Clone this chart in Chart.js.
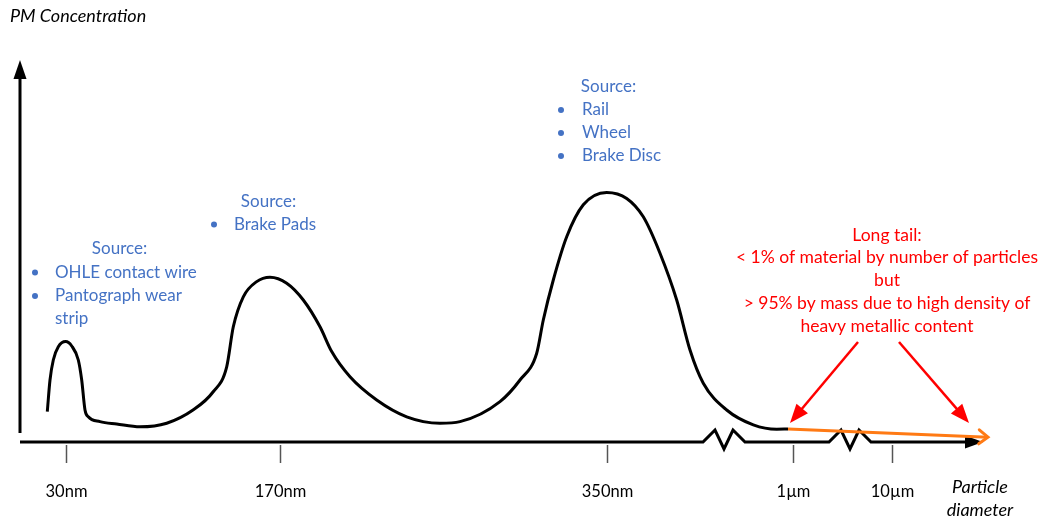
<!DOCTYPE html>
<html>
<head>
<meta charset="utf-8">
<script src="https://cdn.jsdelivr.net/npm/chart.js@4/dist/chart.umd.min.js"></script>
<style>
  html, body { margin: 0; padding: 0; background: #ffffff; }
  canvas { display: block; }
</style>
</head>
<body>
<canvas id="pm" width="1042" height="519"></canvas>
<script>
// Particle size distribution (schematic): position along the diameter axis
// (0-100, non-linear with breaks) and relative PM concentration (0-100).
const curveX = [2.73, 3.0, 3.33, 3.83, 4.57, 5.17, 5.83, 6.17, 6.5, 6.83,
                8.0, 9.67, 12.0, 14.67, 17.3, 19.3, 20.67, 21.33, 22.33, 23.67,
                25.0, 26.67, 28.33, 30.0, 31.17, 33.0, 35.67, 38.67, 42.0, 44.0,
                48.0, 50.0, 51.67, 52.33, 53.33, 54.67, 56.33, 58.67, 60.67, 62.33,
                64.0, 65.67, 67.0, 68.33, 70.67, 73.33, 75.67, 76.8];
const curveY = [7.6, 15.5, 20.5, 23.8, 25.1, 24.0, 20.5, 15.5, 8.0, 6.3,
                5.1, 4.5, 3.8, 4.7, 8.0, 12.5, 18.8, 28.8, 36.3, 40.1,
                41.2, 39.7, 35.5, 28.8, 22.6, 16.3, 10.5, 6.3, 4.7, 5.1,
                10.1, 15.5, 22.2, 30.5, 40.5, 51.3, 59.3, 62.4, 60.9, 56.3,
                47.2, 35.5, 23.0, 14.7, 8.0, 4.3, 3.2, 3.25];

// Coarse-particle long tail
const tailX = [76.8, 96.8];
const tailY = [3.25, 1.2];

// Diameter axis ticks
const tickValues = [4.6, 26.0, 58.7, 77.3, 87.2];
const tickLabels = ['30nm', '170nm', '350nm', '1µm', '10µm'];

// Scale breaks on the diameter axis
const breakCentres = [70.4, 83.0];

// Axis extents
const xAxisEnd = 96.3;
const yAxisEnd = 95.5;

// Source annotations
const sourceTitle = 'Source:';
const sourcesFine = ['OHLE contact wire', 'Pantograph wear'];
const sourcesFineWrap = 'strip';
const sourcesMid = ['Brake Pads'];
const sourcesCoarse = ['Rail', 'Wheel', 'Brake Disc'];
const tailNote = ['Long tail:', '< 1% of material by number of particles', 'but',
                  '> 95% by mass due to high density of', 'heavy metallic content'];

const FONT = 'Lato, "Open Sans", sans-serif';
const BLUE = '#4472C4';
const RED = '#FF0000';
const ORANGE = '#FF7A14';

function arrowHead(ctx, x0, y0, x1, y1, len, half, fill) {
  const a = Math.atan2(y1 - y0, x1 - x0);
  ctx.beginPath();
  ctx.moveTo(x1, y1);
  ctx.lineTo(x1 - len * Math.cos(a) + half * Math.sin(a), y1 - len * Math.sin(a) - half * Math.cos(a));
  ctx.lineTo(x1 - len * Math.cos(a) - half * Math.sin(a), y1 - len * Math.sin(a) + half * Math.cos(a));
  ctx.closePath();
  ctx.fillStyle = fill;
  ctx.fill();
}

const diagramPlugin = {
  id: 'diagram',
  beforeDatasetsDraw(chart) {
    const ctx = chart.ctx;
    const xs = chart.scales.x, ys = chart.scales.y;
    const x0 = xs.getPixelForValue(0);
    const y0 = ys.getPixelForValue(0);
    const xEnd = xs.getPixelForValue(xAxisEnd);
    const yTop = ys.getPixelForValue(yAxisEnd);
    ctx.save();
    ctx.strokeStyle = '#000';
    ctx.lineWidth = 3;
    ctx.lineJoin = 'miter';
    // vertical axis
    ctx.beginPath();
    ctx.moveTo(x0, y0 - 9);
    ctx.lineTo(x0, yTop + 14);
    ctx.stroke();
    arrowHead(ctx, x0, y0, x0, yTop, 19, 6.5, '#000');
    // horizontal axis with zigzag breaks
    ctx.beginPath();
    ctx.moveTo(x0, y0);
    breakCentres.forEach(c => {
      const cx = xs.getPixelForValue(c);
      ctx.lineTo(cx - 21, y0);
      ctx.lineTo(cx - 9, y0 - 12);
      ctx.lineTo(cx, y0 + 7);
      ctx.lineTo(cx + 9, y0 - 12);
      ctx.lineTo(cx + 21, y0);
    });
    ctx.lineTo(xEnd - 14, y0);
    ctx.stroke();
    arrowHead(ctx, x0, y0, xEnd, y0, 18, 6.5, '#000');
    // ticks
    ctx.strokeStyle = '#555';
    ctx.lineWidth = 1.5;
    ctx.fillStyle = '#000';
    ctx.font = '16.5px ' + FONT;
    ctx.textAlign = 'center';
    ctx.textBaseline = 'middle';
    tickValues.forEach((v, i) => {
      const px = Math.round(xs.getPixelForValue(v)) + 0.5;
      ctx.beginPath();
      ctx.moveTo(px, y0 + 3);
      ctx.lineTo(px, y0 + 21);
      ctx.stroke();
      ctx.fillText(tickLabels[i], px, y0 + 50);
    });
    ctx.restore();
  },
  afterDraw(chart) {
    const ctx = chart.ctx;
    const xs = chart.scales.x, ys = chart.scales.y;
    ctx.save();
    // axis titles
    ctx.fillStyle = '#000';
    ctx.textBaseline = 'middle';
    ctx.font = 'italic 18px ' + FONT;
    ctx.textAlign = 'left';
    ctx.fillText('PM Concentration', 10, 16);
    ctx.textAlign = 'center';
    ctx.font = 'italic 18px ' + FONT;
    ctx.fillText('Particle', 980, 487);
    ctx.fillText('diameter', 980, 510);

    // source lists
    ctx.fillStyle = BLUE;
    ctx.font = '17px ' + FONT;
    const bullet = (x, y) => { ctx.beginPath(); ctx.arc(x, y, 3, 0, Math.PI * 2); ctx.fill(); };
    const list = (titleX, titleY, bulletX, textX, items, step) => {
      ctx.textAlign = 'center';
      ctx.fillText(sourceTitle, titleX, titleY);
      ctx.textAlign = 'left';
      items.forEach((t, i) => {
        const y = titleY + step * (i + 1);
        bullet(bulletX, y);
        ctx.fillText(t, textX, y);
      });
    };
    list(119.5, 249, 35, 55, sourcesFine, 23.5);
    ctx.textAlign = 'left';
    ctx.fillText(sourcesFineWrap, 55, 319);
    list(268.5, 202, 214, 234, sourcesMid, 22.5);
    list(608.5, 87, 561, 582, sourcesCoarse, 23);

    // long tail note
    ctx.fillStyle = RED;
    ctx.font = '17.5px ' + FONT;
    ctx.textAlign = 'center';
    const noteY = [235, 257.5, 280, 303, 326];
    tailNote.forEach((t, i) => ctx.fillText(t, 887, noteY[i]));

    // red pointers to the tail
    const tail0 = { x: xs.getPixelForValue(tailX[0]), y: ys.getPixelForValue(tailY[0]) };
    const pointers = [
      [858, 342, tail0.x + 2, tail0.y - 6],
      [899, 342, 969, 423]
    ];
    ctx.strokeStyle = RED;
    ctx.lineWidth = 2.5;
    pointers.forEach(([ax, ay, bx, by]) => {
      const a = Math.atan2(by - ay, bx - ax);
      ctx.beginPath();
      ctx.moveTo(ax, ay);
      ctx.lineTo(bx - 14 * Math.cos(a), by - 14 * Math.sin(a));
      ctx.stroke();
      arrowHead(ctx, ax, ay, bx, by, 19, 7.5, RED);
    });

    // open arrowhead closing the orange tail
    const tEnd = { x: xs.getPixelForValue(tailX[1]), y: ys.getPixelForValue(tailY[1]) };
    const a = Math.atan2(tEnd.y - tail0.y, tEnd.x - tail0.x);
    ctx.strokeStyle = ORANGE;
    ctx.lineWidth = 3;
    ctx.lineCap = 'round';
    ctx.beginPath();
    ctx.moveTo(tEnd.x - 9 * Math.cos(a) + 7 * Math.sin(a), tEnd.y - 9 * Math.sin(a) - 7 * Math.cos(a));
    ctx.lineTo(tEnd.x, tEnd.y);
    ctx.lineTo(tEnd.x - 9 * Math.cos(a) - 7 * Math.sin(a), tEnd.y - 9 * Math.sin(a) + 7 * Math.cos(a));
    ctx.stroke();
    ctx.restore();
  }
};

const whiteBackground = {
  id: 'whiteBackground',
  beforeDraw(chart) {
    const ctx = chart.ctx;
    ctx.save();
    ctx.fillStyle = '#ffffff';
    ctx.fillRect(0, 0, chart.width, chart.height);
    ctx.restore();
  }
};

new Chart(document.getElementById('pm'), {
  type: 'line',
  data: {
    datasets: [
      {
        label: 'PM concentration',
        data: curveX.map((x, i) => ({ x, y: curveY[i] })),
        borderColor: '#000000',
        borderWidth: 3,
        pointRadius: 0,
        cubicInterpolationMode: 'monotone',
        fill: false,
        clip: false
      },
      {
        label: 'Long tail',
        data: tailX.map((x, i) => ({ x, y: tailY[i] })),
        borderColor: ORANGE,
        borderWidth: 3,
        pointRadius: 0,
        tension: 0,
        fill: false,
        clip: false
      }
    ]
  },
  options: {
    responsive: false,
    animation: false,
    events: [],
    layout: { padding: { left: 20, right: 22, top: 42, bottom: 77 } },
    plugins: { legend: { display: false }, tooltip: { enabled: false } },
    scales: {
      x: { type: 'linear', min: 0, max: 100, display: false },
      y: { type: 'linear', min: 0, max: 100, display: false }
    }
  },
  plugins: [whiteBackground, diagramPlugin]
});
</script>
</body>
</html>
